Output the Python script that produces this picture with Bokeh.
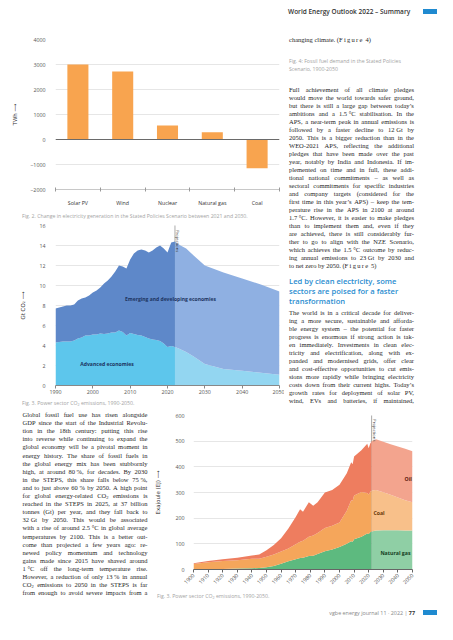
import math
from bokeh.plotting import figure
from bokeh.layouts import column, row
from bokeh.models import (Div, Range1d, LinearAxis, FixedTicker, Span, Label, ColumnDataSource)
from bokeh.embed import file_html
from bokeh.resources import INLINE

# ---------------- data ----------------
# Fig. 2: change in electricity generation 2021-2030 (TWh)
fig2_categories = ["Solar PV", "Wind", "Nuclear", "Natural gas", "Coal"]
fig2_values = [3000, 2720, 560, 290, -1150]
fig2_yticks = [-2000, -1000, 0, 1000, 2000, 3000, 4000]

# Fig. 3: power sector CO2 emissions (Gt CO2)
fig3_years_hist = list(range(1990, 2023))
fig3_adv_hist = [4.3, 4.35, 4.4, 4.4, 4.4, 4.5, 4.7, 4.8, 5.0, 5.0,
                 5.1, 5.1, 5.2, 5.15, 5.2, 5.3, 5.3, 5.5, 5.35, 5.0,
                 5.25, 5.15, 5.05, 5.0, 4.85, 4.7, 4.6, 4.55, 4.45, 4.2,
                 3.85, 3.95, 3.85]
fig3_emg_hist = [3.4, 3.45, 3.5, 3.6, 3.6, 3.6, 3.8, 3.9, 3.8, 4.0,
                 4.2, 4.4, 4.6, 5.05, 5.3, 5.6, 6.1, 6.5, 6.55, 6.7,
                 7.35, 8.05, 8.45, 8.6, 8.65, 8.6, 8.9, 9.25, 9.55, 9.5,
                 9.45, 10.35, 10.55]
fig3_years_proj = [2022, 2023, 2025, 2027, 2030, 2035, 2040, 2045, 2050]
fig3_adv_proj = [3.85, 3.7, 3.35, 2.9, 2.15, 1.65, 1.47, 1.27, 1.07]
fig3_emg_proj = [10.55, 10.4, 10.35, 10.1, 9.85, 9.65, 9.23, 8.83, 8.33]
fig3_xticks = [1990, 2000, 2010, 2020, 2030, 2040, 2050]
fig3_yticks = [0, 2, 4, 6, 8, 10, 12, 14, 16]
projection_year = 2022

# Fig. 4: fossil fuel demand (EJ)
fig4_years_hist = [1900, 1910, 1920, 1930, 1940, 1945, 1950, 1955, 1960, 1965,
                   1970, 1973, 1975, 1979, 1982, 1985, 1990, 1995, 2000, 2005,
                   2008, 2009, 2010, 2015, 2019, 2020, 2021, 2022]
fig4_gas_hist = [1, 1, 2, 4, 5, 6, 9, 14, 22, 32,
                 40, 45, 46, 53, 54, 60, 71, 78, 88, 100,
                 110, 108, 118, 128, 140, 138, 145, 148]
fig4_coal_hist = [20, 27, 31, 32, 37, 36, 41, 44, 48, 50,
                  58, 63, 66, 75, 78, 82, 91, 92, 95, 129,
                  160, 160, 170, 174, 158, 154, 157, 160]
fig4_oil_hist = [3, 5, 7, 10, 13, 16, 25, 37, 52, 78,
                 107, 127, 113, 134, 116, 120, 138, 140, 147, 146,
                 148, 142, 152, 163, 192, 180, 188, 192]
fig4_years_proj = [2022, 2025, 2030, 2035, 2040, 2045, 2050]
fig4_gas_proj = [148, 152, 153, 153, 153, 152, 152]
fig4_coal_proj = [160, 158, 148, 138, 128, 118, 110]
fig4_oil_proj = [192, 197, 197, 197, 198, 200, 199]
fig4_xticks = list(range(1900, 2051, 10))
fig4_yticks = [0, 100, 200, 300, 400, 500, 600]

# ---------------- texts ----------------
header_text = "World Energy Outlook 2022 – Summary"
cap2_text = "Fig. 2. Change in electricity generation in the Stated Policies Scenario between 2021 and 2030."
cap3_text = "Fig. 3. Power sector CO₂ emissions, 1990-2050."
cap4_text = "Fig. 3. Power sector CO₂ emissions, 1990-2050."
cap4_right_lines = ["Fig. 4: Fossil fuel demand in the Stated Policies", "Scenario, 1900-2050"]
intro_line = "changing climate. [Figure4]"
para1_lines = [
    "Full achievement of all climate pledges",
    "would move the world towards safer ground,",
    "but there is still a large gap between today’s",
    "ambitions and a 1.5\u00a0°C stabilisation. In the",
    "APS, a near-term peak in annual emissions is",
    "followed by a faster decline to 12\u00a0Gt by",
    "2050. This is a bigger reduction than in the",
    "WEO-2021 APS, reflecting the additional",
    "pledges that have been made over the past",
    "year, notably by India and Indonesia. If im-",
    "plemented on time and in full, these addi-",
    "tional national commitments – as well as",
    "sectoral commitments for specific industries",
    "and company targets (considered for the",
    "first time in this year’s APS) – keep the tem-",
    "perature rise in the APS in 2100 at around",
    "1.7\u00a0°C. However, it is easier to make pledges",
    "than to implement them and, even if they",
    "are achieved, there is still considerably fur-",
    "ther to go to align with the NZE Scenario,",
    "which achieves the 1.5\u00a0°C outcome by reduc-",
    "ing annual emissions to 23\u00a0Gt by 2030 and",
    "to net zero by 2050. [Figure5]",
]
heading_lines = ["Led by clean electricity, some", "sectors are poised for a faster", "transformation"]
para2_lines = [
    "The world is in a critical decade for deliver-",
    "ing a more secure, sustainable and afforda-",
    "ble energy system – the potential for faster",
    "progress is enormous if strong action is tak-",
    "en immediately. Investments in clean elec-",
    "tricity and electrification, along with ex-",
    "panded and modernised grids, offer clear",
    "and cost-effective opportunities to cut emis-",
    "sions more rapidly while bringing electricity",
    "costs down from their current highs. Today’s",
    "growth rates for deployment of solar PV,",
    "wind, EVs and batteries, if maintained,",
]
para3_lines = [
    "Global fossil fuel use has risen alongside",
    "GDP since the start of the Industrial Revolu-",
    "tion in the 18th century: putting this rise",
    "into reverse while continuing to expand the",
    "global economy will be a pivotal moment in",
    "energy history. The share of fossil fuels in",
    "the global energy mix has been stubbornly",
    "high, at around 80\u00a0%, for decades. By 2030",
    "in the STEPS, this share falls below 75\u00a0%,",
    "and to just above 60\u00a0% by 2050. A high point",
    "for global energy-related CO₂ emissions is",
    "reached in the STEPS in 2025, at 37 billion",
    "tonnes (Gt) per year, and they fall back to",
    "32\u00a0Gt by 2050. This would be associated",
    "with a rise of around 2.5\u00a0°C in global average",
    "temperatures by 2100. This is a better out-",
    "come than projected a few years ago: re-",
    "newed policy momentum and technology",
    "gains made since 2015 have shaved around",
    "1\u00a0°C off the long-term temperature rise.",
    "However, a reduction of only 13\u00a0% in annual",
    "CO₂ emissions to 2050 in the STEPS is far",
    "from enough to avoid severe impacts from a",
]
footer_text = "vgbe energy journal 11 · 2022 | "
footer_page = "77"

# ---------------- helpers ----------------
SANS = "Open Sans"
SERIF = "Liberation Serif"
SUB2 = '<sub style="font-size:70%;vertical-align:-1px;line-height:0">2</sub>'
FIG4 = '(<span style="letter-spacing:1.3px">Figure</span>\u00a04)'
FIG5 = '(<span style="letter-spacing:1.3px">Figure</span>\u00a05)'


def fmt(s):
    return s.replace("₂", SUB2).replace("[Figure4]", FIG4).replace("[Figure5]", FIG5)


def line_div(text, x, y, w, lh, style, justify=False):
    base = (f"position:absolute;left:{x}px;top:{y}px;width:{w}px;height:{lh}px;"
            f"line-height:{lh}px;white-space:nowrap;{style}")
    if justify:
        spans = "".join(f"<span>{fmt(wd)}</span>" for wd in text.split(" "))
        return f'<div style="{base}display:flex;justify-content:space-between;">{spans}</div>'
    return f'<div style="{base}">{fmt(text)}</div>'


def box(inner, w, h):
    html = f'<div style="position:relative;width:{w}px;height:{h}px;overflow:visible">{inner}</div>'
    return Div(text=html, width=w, height=h, margin=0, styles={"overflow": "visible"})


body_style = f"font-family:'{SERIF}';font-size:6.5px;color:#262626;"
cap_style = f"font-family:'{SANS}';font-size:5.2px;color:#a3a3a3;"


def style_axis(ax, color="#555"):
    ax.major_label_text_font = SANS
    ax.major_label_text_font_size = "5.3px"
    ax.major_label_text_color = color
    ax.axis_label_text_font = "DejaVu Sans"
    ax.axis_label_text_font_size = "5.5px"
    ax.axis_label_text_font_style = "normal"
    ax.axis_label_text_color = "#333"
    ax.minor_tick_line_color = None


# ---------------- Fig. 2 ----------------
n2 = len(fig2_categories)
fig2_pos = list(range(n2))
p2 = figure(width=284, height=209, x_range=Range1d(-0.5, n2 - 0.5),
            y_range=Range1d(-2000, 4000), output_backend="svg", toolbar_location=None,
            x_axis_location=None, min_border_left=55, min_border_right=4,
            min_border_top=39, min_border_bottom=11)
p2.outline_line_color = None
p2.xgrid.visible = False
p2.ygrid.ticker = FixedTicker(ticks=fig2_yticks)
p2.ygrid.grid_line_color = "#e6e6e6"
ya2 = p2.yaxis[0]
ya2.ticker = FixedTicker(ticks=fig2_yticks)
ya2.axis_line_color = None
ya2.major_tick_line_color = None
ya2.major_label_standoff = 4
ya2.axis_label = "TWh ⟶"
ya2.axis_label_standoff = 9
style_axis(ya2)

bound_axis = LinearAxis(ticker=FixedTicker(ticks=[i - 0.5 for i in range(n2 + 1)]),
                        major_label_text_font_size="0px", major_label_text_color=None,
                        major_label_standoff=0, major_tick_in=2, major_tick_out=2,
                        major_tick_line_color="#999", axis_line_color="#c8c8c8",
                        minor_tick_line_color=None)
p2.add_layout(bound_axis, "below")
cat_axis = LinearAxis(ticker=FixedTicker(ticks=fig2_pos),
                      major_label_overrides={i: c for i, c in zip(fig2_pos, fig2_categories)},
                      axis_line_color=None, major_tick_line_color=None, major_label_standoff=1)
style_axis(cat_axis, color="#333")
p2.add_layout(cat_axis, "below")

src2 = ColumnDataSource(dict(x=fig2_pos, val=fig2_values))
p2.vbar(x="x", top="val", width=0.47, source=src2, fill_color="#F8A44F", line_color=None)
p2.add_layout(Span(location=0, dimension="width", line_color="#6a6a6a", line_width=1))

# ---------------- Fig. 3 ----------------
p3 = figure(width=284, height=178, x_range=Range1d(1990, 2050), y_range=Range1d(0, 16),
            output_backend="svg", toolbar_location=None,
            min_border_left=49, min_border_right=5, min_border_top=7, min_border_bottom=11)
p3.outline_line_color = None
p3.xgrid.visible = False
p3.ygrid.ticker = FixedTicker(ticks=fig3_yticks)
p3.ygrid.grid_line_color = "#e6e6e6"
xa3 = p3.xaxis[0]
xa3.ticker = FixedTicker(ticks=fig3_xticks)
xa3.axis_line_color = "#888"
xa3.major_tick_line_color = "#888"
xa3.major_tick_in = 0
xa3.major_tick_out = 3
xa3.major_label_standoff = 1
style_axis(xa3)
ya3 = p3.yaxis[0]
ya3.ticker = FixedTicker(ticks=fig3_yticks)
ya3.axis_line_color = None
ya3.major_tick_line_color = None
ya3.major_label_standoff = 4
ya3.axis_label = "Gt CO₂ ⟶"
ya3.axis_label_standoff = 10
style_axis(ya3)

p3.add_layout(Span(location=projection_year, dimension="height", line_color="#555",
                   line_width=1, line_dash="1 1", level="underlay"))
src3h = ColumnDataSource(dict(year=fig3_years_hist, adv=fig3_adv_hist, emg=fig3_emg_hist))
src3p = ColumnDataSource(dict(year=fig3_years_proj, adv=fig3_adv_proj, emg=fig3_emg_proj))
p3.varea_stack(stackers=["adv", "emg"], x="year", color=["#5DC6EC", "#5E88C9"], source=src3h)
p3.varea_stack(stackers=["adv", "emg"], x="year", color=["#93D6F1", "#8FB0E2"], source=src3p)
p3.add_layout(Label(x=2020.8, y=8.7, text="Emerging and developing economies",
                    text_align="center", text_baseline="middle", text_font=SANS,
                    text_font_size="5px", text_font_style="bold", text_color="#1c3461"))
p3.add_layout(Label(x=2003.8, y=2.2, text="Advanced economies",
                    text_align="center", text_baseline="middle", text_font=SANS,
                    text_font_size="5.1px", text_font_style="bold", text_color="#1c3461"))
p3.add_layout(Label(x=projection_year, y=15.55, text="Projections", angle=-math.pi / 2,
                    text_align="left", text_baseline="bottom", x_offset=0.5,
                    text_font=SANS, text_font_size="4.3px", text_color="#333"))

# ---------------- Fig. 4 ----------------
p4 = figure(width=285, height=182, x_range=Range1d(1900, 2050), y_range=Range1d(0, 600),
            output_backend="svg", toolbar_location=None,
            min_border_left=33, min_border_right=25, min_border_top=9, min_border_bottom=19)
p4.outline_line_color = None
p4.xgrid.visible = False
p4.ygrid.ticker = FixedTicker(ticks=fig4_yticks)
p4.ygrid.grid_line_color = "#e6e6e6"
xa4 = p4.xaxis[0]
xa4.ticker = FixedTicker(ticks=fig4_xticks)
xa4.axis_line_color = "#666"
xa4.major_tick_line_color = "#666"
xa4.major_tick_in = 0
xa4.major_tick_out = 3
xa4.major_label_standoff = 2
xa4.major_label_orientation = math.pi / 4
style_axis(xa4)
ya4 = p4.yaxis[0]
ya4.ticker = FixedTicker(ticks=fig4_yticks)
ya4.axis_line_color = None
ya4.major_tick_line_color = None
ya4.major_label_standoff = 3
ya4.axis_label = "Exajoule (EJ) ⟶"
ya4.axis_label_standoff = 11
style_axis(ya4)

p4.add_layout(Span(location=projection_year, dimension="height", line_color="#555",
                   line_width=1, line_dash="1 1", level="underlay"))
src4h = ColumnDataSource(dict(year=fig4_years_hist, gas=fig4_gas_hist, coal=fig4_coal_hist, oil=fig4_oil_hist))
src4p = ColumnDataSource(dict(year=fig4_years_proj, gas=fig4_gas_proj, coal=fig4_coal_proj, oil=fig4_oil_proj))
p4.varea_stack(stackers=["gas", "coal", "oil"], x="year",
               color=["#5DBA7F", "#F5A65B", "#EE7D5F"], source=src4h)
p4.varea_stack(stackers=["gas", "coal", "oil"], x="year",
               color=["#8FCFA5", "#F8C08A", "#F3A48E"], source=src4p)
for txt, lx, ly, col in [("Oil", 2047.1, 353, "#5c1a0c"), ("Coal", 2027.1, 222, "#6a3a08"),
                         ("Natural gas", 2038.3, 63, "#143d22")]:
    p4.add_layout(Label(x=lx, y=ly, text=txt, text_align="center", text_baseline="middle",
                        text_font=SANS, text_font_size="5.2px", text_font_style="bold",
                        text_color=col))
p4.add_layout(Label(x=projection_year, y=586, text="Projections", angle=-math.pi / 2,
                    text_align="left", text_baseline="bottom", x_offset=0.5,
                    text_font=SANS, text_font_size="4.3px", text_color="#333"))

# ---------------- text blocks ----------------
cap2 = box(line_div(cap2_text, 22, 0, 262, 9, cap_style), 284, 9)
cap3 = box(line_div(cap3_text, 22, 0, 262, 10, cap_style), 284, 10)

# right column (window x 292..445, y 8..414)
rc = []
rc.append(line_div(header_text, 4, 6.5, 135, 9,
                   f"font-family:'{SANS}';font-size:6.5px;font-weight:600;color:#333;"))
rc.append('<div style="position:absolute;left:139px;top:9px;width:14px;height:5px;background:#1F8AD0"></div>')
rc.append(line_div(intro_line, 5, 36, 125, 8, body_style))
for i, ln in enumerate(cap4_right_lines):
    rc.append(line_div(ln, 5, 57 + 8 * i, 125, 8, cap_style))
for i, ln in enumerate(para1_lines):
    rc.append(line_div(ln, 5, 86 + 8 * i, 125, 8, body_style, justify=(i < len(para1_lines) - 1)))
for i, ln in enumerate(heading_lines):
    rc.append(line_div(ln, 5, 276.3 + 10 * i, 140, 10,
                       f"font-family:'{SANS}';font-size:7.6px;font-weight:600;color:#2A8DD0;"))
for i, ln in enumerate(para2_lines):
    rc.append(line_div(ln, 5, 309 + 8 * i, 125, 8, body_style, justify=True))
right_div = box("".join(rc), 153, 406)

# bottom-left text (window x 8..160, y 414..632)
lc = []
for i, ln in enumerate(para3_lines):
    lc.append(line_div(ln, 22.5, 5 + 8.1 * i, 125, 8, body_style, justify=True))
left_div = box("".join(lc), 152, 218)

cap4 = box(line_div(cap4_text, 5, 0, 200, 8, cap_style), 285, 8)
foot = (f'<div style="position:absolute;right:22px;top:13px;height:8px;line-height:8px;white-space:nowrap;'
        f"font-family:'{SANS}';font-size:5.4px;color:#888;\">{footer_text}"
        f'<b style="color:#333">{footer_page}</b></div>'
        '<div style="position:absolute;left:271px;top:14px;width:14px;height:5px;background:#1F8AD0"></div>')
footer = box(foot, 285, 28)

top = row(column(p2, cap2, p3, cap3), right_div)
bottom = row(left_div, column(p4, cap4, footer))
page = column(top, bottom)

open("out.html", "w").write(file_html(page, INLINE))
